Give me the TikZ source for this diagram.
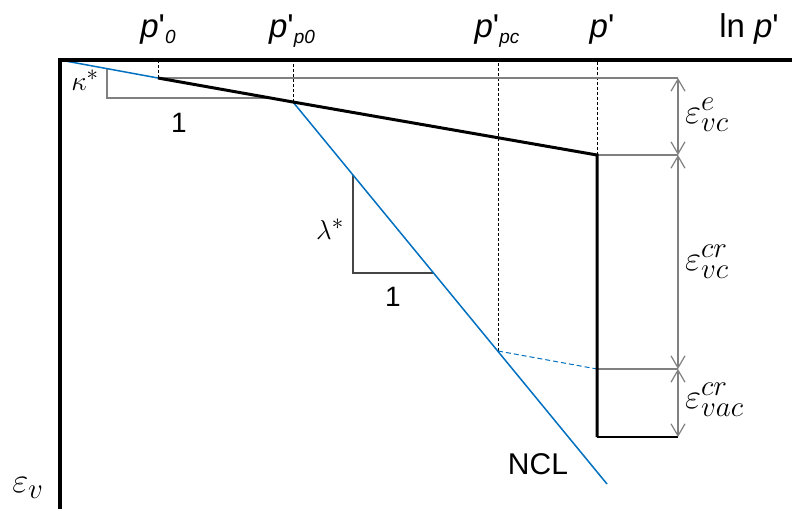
\documentclass[tikz,border=0pt]{standalone}
\usepackage{fontspec}
\setmainfont{Liberation Sans}
\usetikzlibrary{arrows.meta,calc}
\definecolor{bleuN}{HTML}{0070C0}
\definecolor{grisC}{RGB}{128,128,128}
\definecolor{grisF}{RGB}{70,70,70}
\newcommand{\pprime}[1]{\textit{p}\textquotesingle\raisebox{-6pt}{\fontsize{19}{19}\selectfont\itshape #1}}
\newcommand{\grandmath}[2]{\scalebox{#1}{\fontsize{24.88}{26}\selectfont$#2$}}
\tikzset{
  axe/.style={line width=3.5pt, draw=black},
  courbe/.style={line width=3pt, draw=black},
  ncl/.style={line width=1.5pt, draw=bleuN},
  repere/.style={dash pattern=on 3pt off 2pt, line width=0.8pt, draw=black},
  cote/.style={{Straight Barb[length=12pt,width=14pt]}-{Straight Barb[length=12pt,width=14pt]},
               line width=1.2pt, draw=grisC},
  fin/.style={line width=1.2pt, draw=#1},
  lab/.style={font=\fontsize{33}{33}\selectfont, anchor=base, inner sep=0pt},
  pente/.style={font=\fontsize{28}{28}\selectfont, inner sep=0pt},
  eps/.style={anchor=west, inner sep=0pt},
}

\begin{document}
\begin{tikzpicture}[x=1pt,y=-1pt]
    \useasboundingbox (0,0) rectangle (792,509);
    % points de la courbe
    \coordinate (O) at (60,60);
    \coordinate (A) at (158,78);
    \coordinate (B) at (293,102);
    \coordinate (C) at (597,155);
    \coordinate (D) at (498,351);
    \coordinate (E) at (597,369);
    \coordinate (F) at (597,437);
    \coordinate (Nf) at (607,484);
    \coordinate (c1) at (678,78);
    \coordinate (c2) at (678,155);
    \coordinate (c3) at (678,369);
    \coordinate (c4) at (678,437);
    % lignes de rappel
    \draw[repere] (A) -- (A |- O);
    \draw[repere] (B) -- (B |- O);
    \draw[repere] (D) -- (D |- O);
    \draw[repere] (C) -- (C |- O);
    \draw[fin=grisC] (A) -- (c1);
    \draw[fin=grisC] (C) -- (c2);
    \draw[fin=grisC] (E) -- (c3);
    \draw[fin=black] (F) -- (c4);
    % triangles de pente
    \draw[fin=grisC] (107,68.6) -- (107,98) -- (266,98);
    \draw[fin=grisF] (353,175) -- (353,273) -- (433.5,273);
    % NCL et courbe
    \draw[ncl] (O) -- (A);
    \draw[ncl] (B) -- (Nf);
    \draw[ncl, dash pattern=on 5pt off 3pt, line width=1pt] (D) -- (E);
    \draw[courbe] (A) -- (B) -- (C) -- (F);
    \draw[axe] (60,509) -- (O) -- (792,60);
    % cotes
    \draw[cote] (c1) -- (c2);
    \draw[cote] (c2) -- (c3);
    \draw[cote] (c3) -- (c4);
    % textes
    \node[lab] (p0) at (158,37) {\pprime{0}};
    \node[lab] (pp0) at (292,37) {\pprime{p0}};
    \node[lab] (ppc) at (497,37) {\pprime{pc}};
    \node[lab] (p) at (602,37) {\textit{p}\textquotesingle};
    \node[lab] (lnp) at (749,37) {ln \textit{p}\textquotesingle};
    \node[pente] (kap) at (85,80) {\grandmath{1.1}{\kappa^*}};
    \node[pente] (un1) at (179,123) {1};
    \node[pente] (lam) at (330,229) {\grandmath{1.1}{\lambda^*}};
    \node[pente] (un2) at (393,297) {1};
    \node[pente, font=\fontsize{30}{30}\selectfont] (ncl) at (538,464) {NCL};
    \node[eps] (ee) at (685,115) {\grandmath{1.4}{\varepsilon^{e}_{vc}}};
    \node[eps] (ecr) at (685,262) {\grandmath{1.4}{\varepsilon^{cr}_{vc}}};
    \node[eps] (ecra) at (685,400) {\grandmath{1.4}{\varepsilon^{cr}_{vac}}};
    \node[eps, anchor=center] (ev) at (28,488) {\grandmath{1.4}{\varepsilon_{v}}};
\end{tikzpicture}
\end{document}
